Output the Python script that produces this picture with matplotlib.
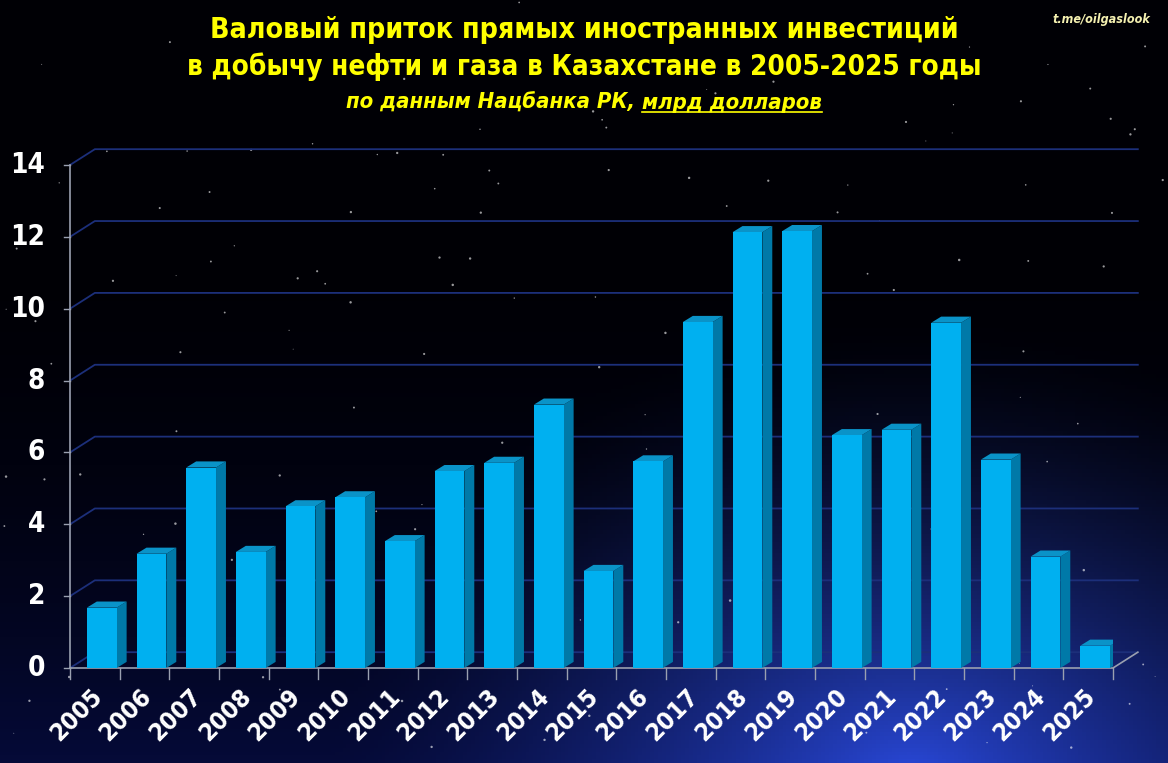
import numpy as np
import matplotlib
matplotlib.use("Agg")
import matplotlib.pyplot as plt
from matplotlib.patches import Polygon
from matplotlib.lines import Line2D

# data (bn USD)
years = [str(y) for y in range(2005, 2026)]
fdi = [1.68, 3.18, 5.58, 3.23, 4.5, 4.75, 3.53, 5.48, 5.71, 7.33, 2.7,
       5.75, 9.63, 12.13, 12.16, 6.48, 6.63, 9.61, 5.8, 3.1, 0.62]
yticks = [0, 2, 4, 6, 8, 10, 12, 14]

title1 = "Валовый приток прямых иностранных инвестиций"
title2 = "в добычу нефти и газа в Казахстане в 2005-2025 годы"
sub_a = "по данным Нацбанка РК, "
sub_b = "млрд долларов"

FONT = dict(family="DejaVu Sans", fontstretch="condensed", fontweight="bold")
W, H = 1168, 763
fig = plt.figure(figsize=(W / 100, H / 100), dpi=100)

# background: night sky with a blue glow in the lower right
bg = fig.add_axes([0, 0, 1, 1])
bg.set_axis_off()
gx, gy = np.meshgrid(np.linspace(0, 1, 300), np.linspace(0, 1, 200))
d = np.sqrt(((gx - 0.78) / 0.5) ** 2 + ((gy + 0.02) / 0.6) ** 2)
glow = np.clip(1 - d, 0, 1) ** 1.5
vert = np.clip(1 - gy / 0.7, 0, 1) ** 2
img = np.zeros(gy.shape + (3,))
img[..., 0] = 0.0 + 0.14 * glow + 0.02 * vert
img[..., 1] = 0.0 + 0.24 * glow + 0.04 * vert
img[..., 2] = 0.02 + 0.62 * glow + 0.2 * vert
bg.imshow(np.clip(img, 0, 1), extent=[0, 1, 0, 1], origin="lower", aspect="auto")
rng = np.random.default_rng(7)
sx, sy = rng.random(160), rng.random(160)
bg.scatter(sx, sy, s=rng.random(160) * 3 + 0.3, c="white", alpha=0.6, lw=0)
bg.set_xlim(0, 1)
bg.set_ylim(0, 1)

# main chart
ax = fig.add_axes([70 / W, (H - 668) / H, 1043 / W, 503 / H])
ax.set_xlim(-0.5, len(years) - 0.5)
ax.set_ylim(0, 14)
ax.set_axis_off()

dx, dy = 0.5, 0.44  # depth of the pseudo-3D box
grid_c = "#1c2f7a"
for v in yticks:
    ax.add_line(Line2D([-0.5, -0.5 + dx, len(years) - 0.5 + dx], [v, v + dy, v + dy],
                       color=grid_c, lw=1.3, clip_on=False, zorder=1))
    ax.add_line(Line2D([-0.62, -0.5], [v, v], color="#9aa0b0", lw=1, clip_on=False))
    ax.text(-1.0, v, str(v), ha="right", va="center", color="white", fontsize=20, **FONT)
ax.add_line(Line2D([-0.5, -0.5], [0, 14], color="#9aa0b0", lw=1.2, clip_on=False))
ax.add_line(Line2D([-0.5, len(years) - 0.5, len(years) - 0.5 + dx], [0, 0, dy],
                   color="#9aa0b0", lw=1.2, clip_on=False))
for k in range(len(years) + 1):
    ax.add_line(Line2D([k - 0.5, k - 0.5], [0, -0.3], color="#9aa0b0", lw=1, clip_on=False))

x = np.arange(len(years))
bars = ax.bar(x + 0.14, fdi, width=0.6, color="#00b0f0", zorder=3)
bdx, bdy = 0.2, 0.17
for b in bars:
    x0, w, h = b.get_x(), b.get_width(), b.get_height()
    ax.add_patch(Polygon([(x0 + w, 0), (x0 + w + bdx, bdy), (x0 + w + bdx, h + bdy), (x0 + w, h)],
                         closed=True, fc="#0079a8", ec="none", zorder=2.9))
    ax.add_patch(Polygon([(x0, h), (x0 + bdx, h + bdy), (x0 + w + bdx, h + bdy), (x0 + w, h)],
                         closed=True, fc="#0a93c8", ec="none", zorder=2.9))

for xi, lab in zip(x, years):
    ax.text(xi - 0.1, -0.45, lab, rotation=45, ha="right", va="top", rotation_mode="anchor",
            color="white", fontsize=18, **FONT)

# titles
fig.text(0.5, 1 - 30 / H, title1, ha="center", va="center", color="#ffff00", fontsize=20.5, **FONT)
fig.text(0.5, 1 - 67 / H, title2, ha="center", va="center", color="#ffff00", fontsize=20, **FONT)
ta = fig.text(0.5, 1 - 103 / H, sub_a, ha="right", va="center", color="#ffff00",
              fontsize=15.8, style="italic", **FONT)
tb = fig.text(0.5, 1 - 103 / H, sub_b, ha="left", va="center", color="#ffff00",
              fontsize=15.8, style="italic", **FONT)
fig.canvas.draw()
ea = ta.get_window_extent()
eb = tb.get_window_extent()
shift = (ea.width + eb.width) / 2 - ea.width
for t in (ta, tb):
    t.set_x(0.5 - shift / W)
eb = tb.get_window_extent()
fig.add_artist(Line2D([eb.x0 / W, eb.x1 / W], [(eb.y0 + 1) / H, (eb.y0 + 1) / H],
                      color="#ffff00", lw=1.2))

fig.text(1 - 18 / W, 1 - 20 / H, "t.me/oilgaslook", ha="right", va="center",
         color="#f4f0b0", fontsize=9, style="italic", **FONT)

fig.savefig("out.png", dpi=100)
